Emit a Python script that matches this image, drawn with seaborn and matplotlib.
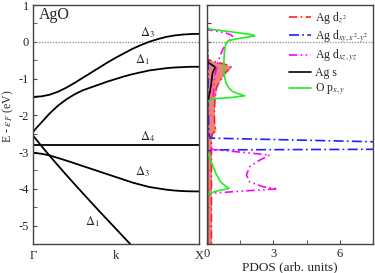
import numpy as np
import pandas as pd
import matplotlib
matplotlib.use("Agg")
import matplotlib.pyplot as plt
import seaborn as sns
from matplotlib.ticker import MultipleLocator

sns.set_style("ticks")
plt.rcParams['font.family'] = ['Liberation Serif', 'DejaVu Serif']
plt.rcParams['mathtext.fontset'] = 'stix'
plt.rcParams['axes.unicode_minus'] = False

# ---------------- band structure (Gamma -> X) ----------------
k_d3u = [0, 0.05, 0.1, 0.15, 0.2, 0.25, 0.3, 0.35, 0.4, 0.45, 0.5, 0.55, 0.6, 0.65, 0.7, 0.75, 0.8, 0.85, 0.9, 0.95, 1.0]
E_d3u = [-1.50, -1.485, -1.44, -1.36, -1.25, -1.12, -0.98, -0.84, -0.70, -0.56, -0.43, -0.31, -0.19, -0.09, 0.0, 0.07, 0.13, 0.17, 0.195, 0.21, 0.215]

k_d1u = [0, 0.025, 0.05, 0.1, 0.15, 0.2, 0.25, 0.3, 0.35, 0.4, 0.45, 0.5, 0.55, 0.6, 0.65, 0.7, 0.75, 0.8, 0.85, 0.9, 0.95, 1.0]
E_d1u = [-2.45, -2.32, -2.20, -1.95, -1.74, -1.57, -1.43, -1.32, -1.24, -1.16, -1.08, -1.01, -0.94, -0.88, -0.83, -0.78, -0.75, -0.72, -0.70, -0.69, -0.68, -0.68]

k_d4 = [0, 1.0]
E_d4 = [-2.80, -2.80]

k_d3l = [0, 0.05, 0.1, 0.15, 0.2, 0.3, 0.4, 0.5, 0.6, 0.7, 0.8, 0.85, 0.9, 0.95, 1.0]
E_d3l = [-3.02, -3.045, -3.09, -3.16, -3.23, -3.38, -3.53, -3.68, -3.83, -3.95, -4.02, -4.045, -4.06, -4.068, -4.07]

k_d1l = [0, 0.05, 0.1, 0.2, 0.3, 0.4, 0.5, 0.6]
E_d1l = [-2.55, -2.83, -3.10, -3.62, -4.12, -4.61, -5.09, -5.57]

band_labels = [r'$\Delta_3$', r'$\Delta_1$', r'$\Delta_4$', r'$\Delta_3$', r'$\Delta_1$']
band_label_k = [0.69, 0.66, 0.69, 0.66, 0.355]
band_label_E = [0.25, -0.49, -2.59, -3.54, -4.90]

kpath_ticks = [0.0, 0.5, 1.0]
kpath_labels = ['Γ', 'k', 'X']

# ---------------- PDOS ----------------
E_dz2 = [1.0, -0.48, -0.54, -0.60, -0.66, -0.70, -0.75, -0.81, -0.90, -0.99, -1.14, -1.25, -1.53, -1.9, -2.2, -2.35, -2.42, -2.5, -2.6, -3.0, -4.0, -5.0, -5.5]
P_dz2 = [0.0, 0.02, 0.35, 0.75, 1.05, 1.1, 1.0, 0.88, 0.76, 0.66, 0.51, 0.43, 0.36, 0.33, 0.34, 0.38, 0.40, 0.25, 0.20, 0.20, 0.20, 0.20, 0.20]

E_dxy = [1.0, 0.0, -0.5, -1.5, -2.5, -2.62, -2.78, -2.915, -2.94, -2.97, -3.1, -4.0, -5.5]
P_dxy = [0.0, 0.0, 0.05, 0.05, 0.08, 0.15, 12.0, 12.0, 0.3, 0.05, 0.02, 0.0, 0.0]

E_dxz = [1.0, 0.33, 0.29, 0.24, 0.18, 0.13, 0.07, 0.0, -0.2, -0.4, -0.6, -0.85, -1.1, -1.3, -1.5, -1.6, -2.85, -2.92, -3.0, -3.08, -3.22, -3.40, -3.62, -3.81, -3.94, -4.0, -4.06, -4.12, -4.2, -5.5]
P_dxz = [0.0, 0.02, 0.4, 0.85, 1.1, 1.17, 1.08, 0.92, 0.72, 0.58, 0.48, 0.38, 0.32, 0.30, 0.28, 0.05, 0.0, 0.1, 1.5, 2.83, 2.38, 1.93, 1.78, 1.93, 2.52, 3.2, 1.63, 0.15, 0.02, 0.0]

E_s = [1.0, -0.55, -0.62, -0.68, -0.72, -0.78, -0.85, -1.0, -1.2, -1.4, -1.55, -1.7, -5.5]
P_s = [0.0, 0.02, 0.2, 0.35, 0.36, 0.30, 0.25, 0.22, 0.18, 0.12, 0.06, 0.02, 0.02]

E_op = [1.0, 0.38, 0.34, 0.30, 0.24, 0.19, 0.16, 0.12, 0.07, 0.02, -0.05, -0.3, -0.6, -0.9, -1.1, -1.25, -1.35, -1.42, -1.47, -1.51, -1.55, -1.62, -2.9, -3.05, -3.2, -3.4, -3.6, -3.75, -3.85, -3.93, -3.99, -4.05, -4.12, -4.2, -5.5]
P_op = [0.0, 0.0, 0.15, 0.72, 1.48, 2.05, 2.15, 1.75, 1.25, 0.95, 0.85, 0.78, 0.76, 0.78, 0.85, 0.98, 1.15, 1.45, 1.70, 1.2, 0.3, 0.02, 0.0, 0.05, 0.15, 0.28, 0.42, 0.55, 0.68, 0.85, 1.0, 0.5, 0.1, 0.01, 0.0]

pdos_names = ['Ag d$_{z^2}$', 'Ag d$_{xy,x^2\\text{-}y^2}$', 'Ag d$_{xz,yz}$', 'Ag s', 'O p$_{x,y}$']

# ---------------- figure ----------------
W, H = 375, 273
fig = plt.figure(figsize=(W / 100, H / 100), dpi=100)
ax1 = fig.add_axes([33 / W, 29 / H, 166 / W, 239 / H])
ax2 = fig.add_axes([207 / W, 29 / H, 166 / W, 239 / H])

spine_col = '#444444'
for ax in (ax1, ax2):
    for s in ax.spines.values():
        s.set_color(spine_col)
        s.set_linewidth(1.0)
    ax.set_ylim(-5.5, 1.0)
    ax.axhline(0, color='#999999', lw=1.0, ls=(0, (1, 1)), zorder=1)
    ax.grid(False)

# bands
for kk, ee in [(k_d3u, E_d3u), (k_d1u, E_d1u), (k_d4, E_d4), (k_d3l, E_d3l), (k_d1l, E_d1l)]:
    sns.lineplot(x=kk, y=ee, sort=False, estimator=None, color='black', lw=1.3, ax=ax1)
for lab, kx, ey in zip(band_labels, band_label_k, band_label_E):
    ax1.text(kx, ey, lab, fontsize=9, ha='center', va='center')
ax1.text(0.13, 0.74, 'AgO', fontsize=11.5, ha='center', va='center')
ax1.set_xlim(0, 1)
ax1.set_xticks(kpath_ticks)
ax1.set_xticklabels(kpath_labels)
ax1.tick_params(axis='x', length=0, labelsize=9, pad=4)
ax1.yaxis.set_major_locator(MultipleLocator(1))
ax1.yaxis.set_minor_locator(MultipleLocator(0.5))
ax1.tick_params(axis='y', which='major', direction='in', length=3, labelsize=9, pad=3, color=spine_col)
ax1.tick_params(axis='y', which='minor', direction='in', length=3, color=spine_col)
ax1.set_yticks([1, 0, -1, -2, -3, -4, -5])
ax1.set_ylabel(r'E - $\varepsilon_F$ (eV)', fontsize=8.5)
ax1.yaxis.set_label_coords(-0.105, 0.535)
ax1.set_xlabel('')

# PDOS
ax2.fill_betweenx(E_dz2, 0, P_dz2, color='#f26a6a', alpha=0.85, lw=0, zorder=2)
styles = [
    (E_dz2, P_dz2, '#ff2020', (0, (5, 2, 1, 2))),
    (E_dxy, P_dxy, '#2020ff', (0, (6, 2, 1, 2))),
    (E_dxz, P_dxz, '#ff00ff', (0, (5, 2, 1, 2, 1, 2))),
    (E_s, P_s, 'black', '-'),
    (E_op, P_op, '#22ee22', '-'),
]
for (ee, pp, col, ls), name in zip(styles, pdos_names):
    sns.lineplot(x=pp, y=ee, sort=False, estimator=None, color=col, lw=1.2, ax=ax2, label=name)
    ax2.lines[-1].set_linestyle(ls)

ax2.set_xlim(0, 7.5)
ax2.set_xticks([0, 3, 6])
ax2.xaxis.set_minor_locator(MultipleLocator(1.5))
ax2.tick_params(axis='x', which='both', direction='in', length=3, labelsize=9, pad=3, color=spine_col)
ax2.yaxis.set_major_locator(MultipleLocator(0.5))
ax2.tick_params(axis='y', which='both', direction='in', length=3, labelleft=False, color=spine_col)
ax2.set_xlabel('PDOS (arb. units)', fontsize=9.5, labelpad=1)
ax2.set_ylabel('')

leg = ax2.legend(loc='upper right', frameon=False, fontsize=8.5, handlelength=1.8,
                 handletextpad=0.4, labelspacing=0.2, borderaxespad=0.0)
for h in leg.get_lines():
    h.set_linewidth(1.2)

fig.savefig('out.png', dpi=100)
